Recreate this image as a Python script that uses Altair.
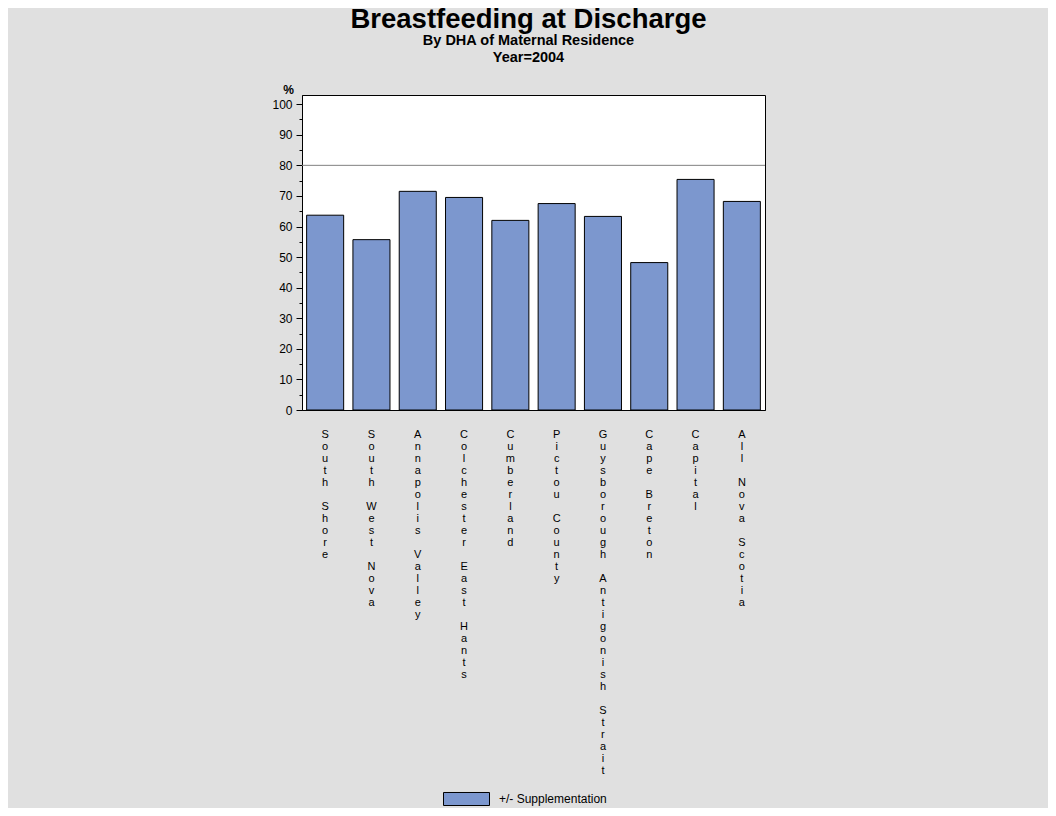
import altair as alt
import pandas as pd

regions = ["South Shore", "South West Nova", "Annapolis Valley", "Colchester East Hants",
           "Cumberland", "Pictou County", "Guysborough Antigonish Strait", "Cape Breton",
           "Capital", "All Nova Scotia"]
rates = [63.7, 55.7, 71.5, 69.5, 62.0, 67.5, 63.3, 48.2, 75.4, 68.2]
series_name = "+/- Supplementation"
target = [80]
y_major = list(range(0, 101, 10))
y_minor = list(range(5, 100, 10))

# Stacked labels: a blank (non-whitespace) glyph keeps the empty line between words
BLANK = "\u2800"
region_labels = [r.replace(" ", BLANK) for r in regions]

df = pd.DataFrame({"region": region_labels, "rate": rates,
                   "series": [series_name] * len(regions)})
ref = pd.DataFrame({"target": target})

FONT = "Liberation Sans"
BAR = "#7C97CE"

y_scale = alt.Scale(domain=[0, 103], nice=False, zero=True)

bars = alt.Chart(df).mark_bar(stroke="black", strokeWidth=1, opacity=1).encode(
    x=alt.X("region:N", sort=region_labels,
            scale=alt.Scale(paddingInner=0.2, paddingOuter=0.1),
            axis=alt.Axis(title=None, labelAngle=0, labelExpr="split(datum.label, '')",
                          ticks=False, labelPadding=18, labelBaseline="top",
                          labelLineHeight=12, labelFontSize=11, labelFont=FONT,
                          labelColor="black", labelOverlap=False, labelLimit=1000,
                          domainColor="black", grid=False)),
    y=alt.Y("rate:Q", scale=y_scale,
            axis=alt.Axis(orient="left", title="%", values=y_major, tickSize=6, tickColor="black",
                          domainColor="black", grid=False,
                          labelFont=FONT, labelFontSize=12, labelColor="black", labelPadding=4,
                          titleAngle=0, titleX=-14, titleY=1, titleAlign="center",
                          titleBaseline="bottom", titleFont=FONT, titleFontSize=12,
                          titleFontWeight="bold", titleColor="black")),
    color=alt.Color("series:N", scale=alt.Scale(domain=[series_name], range=[BAR]),
                    legend=alt.Legend(title=None, orient="none", legendX=141, legendY=680.5,
                                      symbolType="M-1,-0.283L1,-0.283L1,0.283L-1,0.283Z",
                                      symbolSize=2116, symbolStrokeColor="black",
                                      symbolStrokeWidth=1, symbolOpacity=1,
                                      labelFont=FONT, labelFontSize=12, labelColor="black",
                                      labelOffset=9, padding=0)),
)

rule = alt.Chart(ref).mark_rule(color="#808080", strokeWidth=1).encode(
    y=alt.Y("target:Q", scale=y_scale,
            axis=alt.Axis(orient="left", values=y_minor, tickSize=3, tickColor="black",
                          labels=False, domain=False, title=None, grid=False)),
)

chart = alt.layer(rule, bars).resolve_axis(y="independent").resolve_scale(y="shared").properties(
    width=463, height=315,
    autosize=alt.AutoSizeParams(type="none"),
    padding={"left": 294, "top": 87, "right": 283, "bottom": 398},
    title=alt.Title("Breastfeeding at Discharge",
                    subtitle=["By DHA of Maternal Residence", "Year=2004"],
                    font=FONT, fontSize=27.5, fontWeight="bold", color="black",
                    subtitleFont=FONT, subtitleFontSize=14.5, subtitleFontWeight="bold",
                    subtitleColor="black", subtitleLineHeight=17, subtitlePadding=0,
                    anchor="middle", dx=-5, offset=19),
).configure(background="#E0E0E0").configure_view(fill="white", stroke="black", strokeWidth=1)

chart.save("out.html", embed_options={"renderer": "svg", "actions": False})
